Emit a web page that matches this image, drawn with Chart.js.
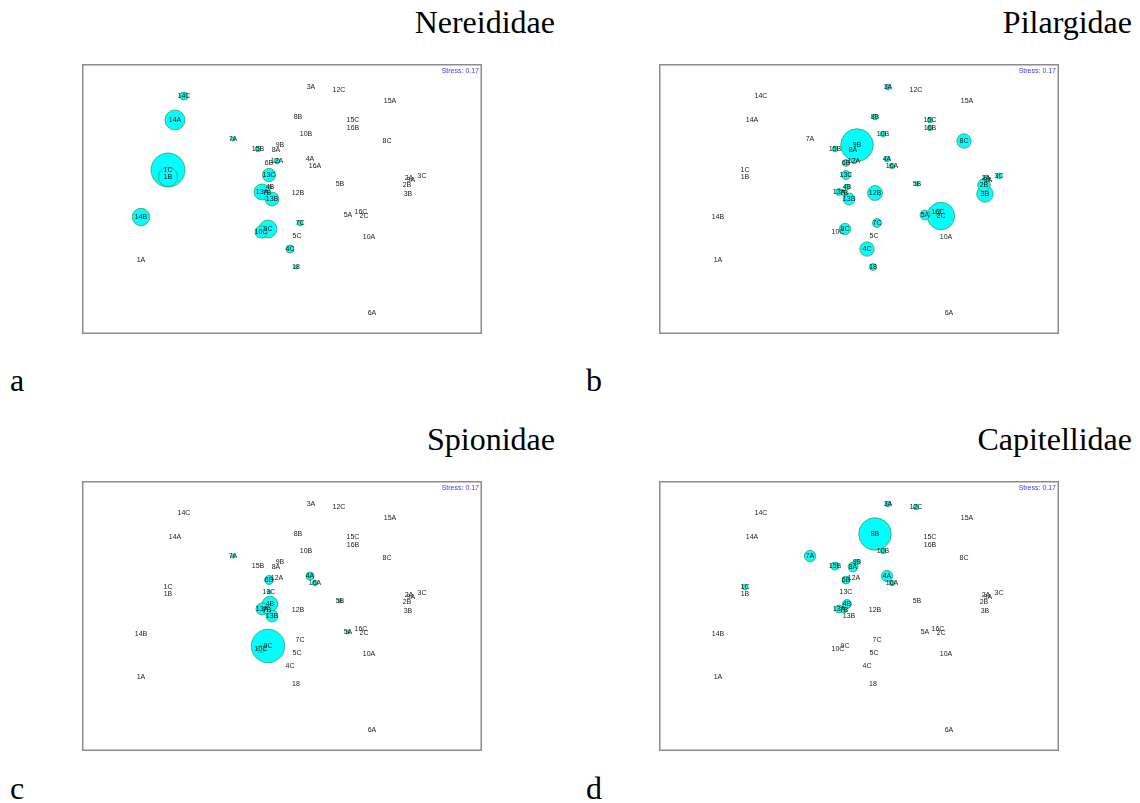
<!DOCTYPE html>
<html>
<head>
<meta charset="utf-8">
<script src="https://cdn.jsdelivr.net/npm/chart.js@4.4.1/dist/chart.umd.min.js"></script>
<style>
  body { margin:0; background:#fff; width:1140px; height:803px; position:relative; overflow:hidden; font-family:"Liberation Serif","Times New Roman",serif; }
  .panel { position:absolute; width:400px; height:270px; }
  .title { position:absolute; font-size:32px; line-height:1; color:#000; white-space:nowrap; text-align:right; }
  .letter { position:absolute; font-size:32px; line-height:1; color:#000; }
</style>
</head>
<body>
<div class="title" style="right:585px; top:6px;">Nereididae</div>
<div class="title" style="right:8px; top:6px;">Pilargidae</div>
<div class="title" style="right:585px; top:423px;">Spionidae</div>
<div class="title" style="right:8px; top:423px;">Capitellidae</div>
<div class="letter" style="left:10px; top:364px;">a</div>
<div class="letter" style="left:586px; top:364px;">b</div>
<div class="letter" style="left:10px; top:772px;">c</div>
<div class="letter" style="left:586px; top:772px;">d</div>

<div class="panel" style="left:82px; top:64px;"><canvas id="pA" width="400" height="270"></canvas></div>
<div class="panel" style="left:659px; top:64px;"><canvas id="pB" width="400" height="270"></canvas></div>
<div class="panel" style="left:82px; top:481px;"><canvas id="pC" width="400" height="270"></canvas></div>
<div class="panel" style="left:659px; top:481px;"><canvas id="pD" width="400" height="270"></canvas></div>

<script>
// Samples (site + replicate) and their 2-D MDS ordination coordinates
const sampleNames = ['1A','1B','1C','2A','2B','2C','3A','3B','3C','4A','4B','4C','5A','5B','5C','6A','6B','7A','7B','7C','8A','8B','8C','9A','9B','9C','10A','10B','10C','12A','12B','12C','13A','13B','13C','14A','14B','14C','15A','15B','15C','16A','16B','16C','18'];
const mds1 = [-1.41,-1.14,-1.14,1.27,1.25,0.82,0.29,1.26,1.40,0.28,-0.12,0.08,0.66,0.58,0.15,0.90,-0.13,-0.49,-0.15,0.18,-0.06,0.16,1.05,1.29,-0.02,-0.14,0.87,0.24,-0.21,-0.05,0.16,0.57,-0.20,-0.10,-0.13,-1.07,-1.41,-0.98,1.08,-0.24,0.71,0.33,0.71,0.79,0.14];
const mds2 = [-0.61,0.22,0.29,0.21,0.14,-0.17,1.12,0.05,0.23,0.40,0.12,-0.50,-0.16,0.15,-0.37,-1.14,0.36,0.60,0.06,-0.24,0.49,0.82,0.58,0.19,0.54,-0.30,-0.38,0.65,-0.33,0.38,0.06,1.09,0.07,0.00,0.24,0.79,-0.18,1.03,0.98,0.50,0.79,0.33,0.71,-0.13,-0.68];
const stressValue = 0.17;

// Abundance of each family per sample (same order as sampleNames)
const nereididae   = [0,23,72,0,0,0,0,0,0,0,1,4,0,0,0,0,0,1,0,2,0,0,0,0,0,20,0,0,9,2,0,0,16,12,11,25,19,4,0,2,0,0,0,0,1];
const pilargidae   = [0,0,0,2,10,47,2,17,2,2,2,13,6,1,0,0,3,0,2,5,0,2,13,1,66,8,0,2,0,2,14,0,3,9,5,0,0,0,0,2,2,2,2,2,3];
const spionidae    = [0,0,0,0,0,0,0,0,0,4,15,0,1,1,0,0,5,1,4,0,0,0,0,0,0,70,0,0,3,0,0,0,9,9,1,0,0,0,0,0,0,2,0,0,0];
const capitellidae = [0,0,2,0,0,0,2,0,0,8,5,0,0,0,0,0,4,8,2,0,6,66,0,0,2,0,0,2,0,0,0,2,4,0,0,0,0,0,0,4,0,2,0,0,0];

// bubble radius grows with the square root of abundance
const radiusOf = v => 2 * Math.sqrt(v);

const panelDecor = {
  id: 'panelDecor',
  afterDatasetsDraw(chart) {
    const { ctx, chartArea: a, scales: { x, y } } = chart;
    ctx.save();
    ctx.font = '7px "Liberation Sans", Arial, sans-serif';
    ctx.fillStyle = '#1a1a1a';
    ctx.textAlign = 'center';
    ctx.textBaseline = 'middle';
    sampleNames.forEach((n, i) => {
      ctx.fillText(n, x.getPixelForValue(mds1[i]), y.getPixelForValue(mds2[i]));
    });
    ctx.strokeStyle = '#8c8c8c';
    ctx.lineWidth = 1.5;
    ctx.strokeRect(a.left + 0.75, a.top + 0.75, a.width - 1.5, a.height - 1.5);
    ctx.fillStyle = '#3b3bff';
    ctx.textAlign = 'right';
    ctx.textBaseline = 'alphabetic';
    ctx.fillText('Stress: ' + stressValue.toFixed(2), a.right - 3, a.top + 9);
    ctx.restore();
  }
};

function drawPanel(id, values) {
  const pts = [];
  values.forEach((v, i) => {
    if (v > 0) pts.push({ x: mds1[i], y: mds2[i], r: radiusOf(v) });
  });
  pts.sort((p, q) => q.r - p.r);
  new Chart(document.getElementById(id), {
    type: 'bubble',
    data: {
      datasets: [{
        data: pts,
        backgroundColor: '#00ffff',
        borderColor: '#3a9f5c',
        borderWidth: 0.8,
        hoverRadius: 0
      }]
    },
    options: {
      responsive: false,
      animation: false,
      events: [],
      layout: { padding: 0, autoPadding: false },
      plugins: { legend: { display: false }, tooltip: { enabled: false } },
      scales: {
        x: { type: 'linear', min: -2, max: 2, display: false },
        y: { type: 'linear', min: -1.35, max: 1.35, display: false }
      }
    },
    plugins: [panelDecor]
  });
}

drawPanel('pA', nereididae);
drawPanel('pB', pilargidae);
drawPanel('pC', spionidae);
drawPanel('pD', capitellidae);
</script>
</body>
</html>
